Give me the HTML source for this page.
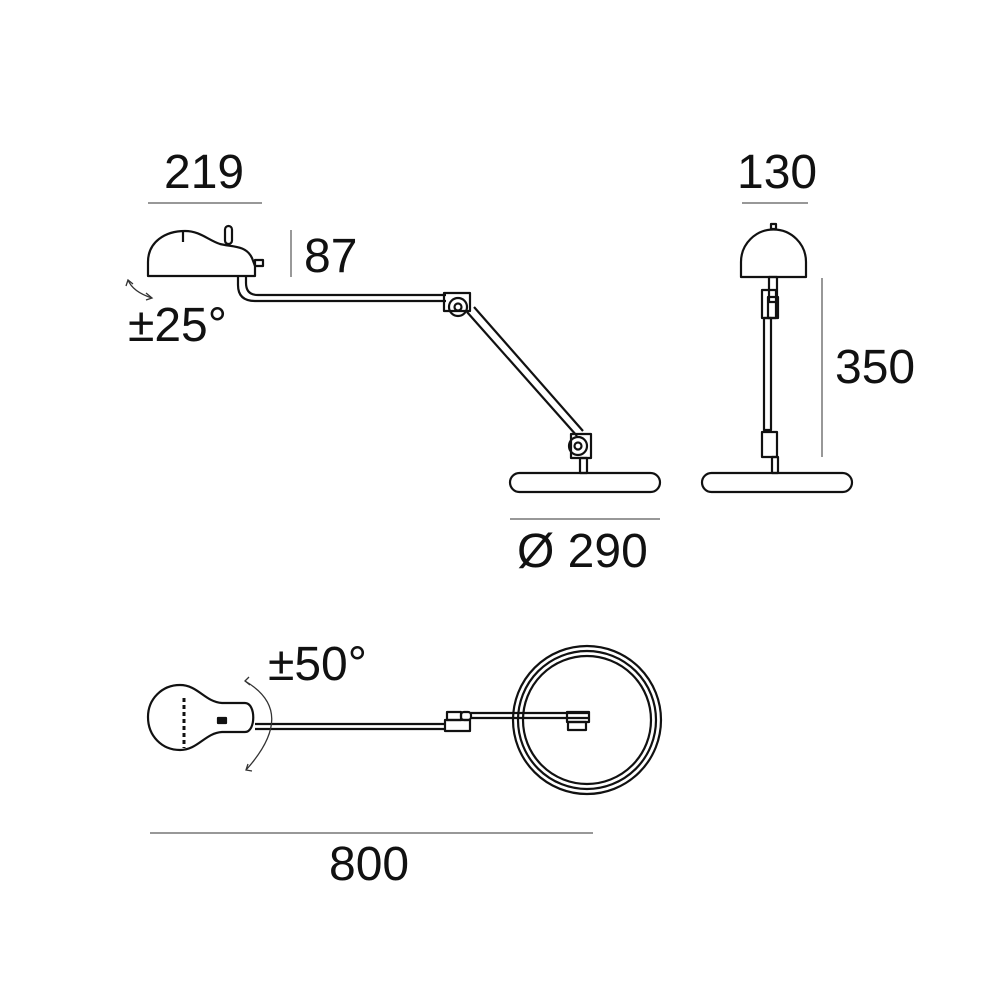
<!DOCTYPE html>
<html><head><meta charset="utf-8"><style>
html,body{margin:0;padding:0;background:#fff}
svg{display:block}
text{font-family:"Liberation Sans",Arial,sans-serif;fill:#111;font-size:48px}
</style></head><body>
<svg width="1000" height="1000" viewBox="0 0 1000 1000" xmlns="http://www.w3.org/2000/svg">
<g fill="none" stroke="#111" stroke-width="2.2" stroke-linejoin="round">
<path d="M148 276 L148 262 C148 242 165 231 185 231 C200 231 208 240 220 244 C232 247 246 245 252 258 L255 266 L255 276 Z"/>
<rect x="225" y="226" width="7" height="18" rx="3.5"/>
<line x1="183" y1="232" x2="183" y2="242"/>
<rect x="255" y="260" width="8" height="6"/>
<path d="M238 277 L238 285 Q238 301 255 301 L446 301"/>
<path d="M246 277 L246 283 Q246 295 258 295 L446 295"/>
<rect x="444" y="293" width="26" height="18"/>
<circle cx="458" cy="307" r="9"/>
<circle cx="458" cy="307" r="3.5"/>
<line x1="467" y1="312" x2="577" y2="436"/>
<line x1="474" y1="307" x2="583" y2="431"/>
<rect x="571" y="434" width="20" height="24"/>
<circle cx="578" cy="446" r="9"/>
<circle cx="578" cy="446" r="3.5"/>
<rect x="580" y="458" width="7" height="15"/>
<rect x="510" y="473" width="150" height="19" rx="9.5"/>
<path d="M741 277 L741 262 A32 32 0 0 1 806 262 L806 277 Z"/>
<rect x="771" y="224" width="5" height="5"/>
<rect x="769" y="277" width="8" height="25"/>
<rect x="762" y="290" width="14" height="28"/>
<rect x="768" y="297" width="10" height="21"/>
<rect x="764" y="318" width="7" height="112"/>
<rect x="762" y="432" width="15" height="25"/>
<rect x="772" y="457" width="6" height="16"/>
<rect x="702" y="473" width="150" height="19" rx="9.5"/>
<path d="M180 685 C198 685 205 702 222 703 L245 703 C256 703 256 732 245 732 L222 732 C205 733 198 750 180 750 C162 750 148 736 148 717 C148 699 162 685 180 685 Z"/>
<rect x="218" y="718" width="8" height="5" fill="#111"/>
<line x1="184" y1="698" x2="184" y2="748" stroke-dasharray="4 3" stroke-width="3"/>
<line x1="255" y1="724" x2="446" y2="724"/>
<line x1="255" y1="729" x2="446" y2="729"/>
<rect x="445" y="720" width="25" height="11"/>
<rect x="447" y="712" width="14" height="8"/>
<rect x="461" y="712" width="10" height="8" rx="3"/>
<line x1="471" y1="713" x2="590" y2="713"/>
<line x1="471" y1="718" x2="590" y2="718"/>
<rect x="567" y="712" width="22" height="10"/>
<rect x="568" y="722" width="18" height="8"/>
<circle cx="587" cy="720" r="74"/>
<circle cx="587" cy="720" r="69"/>
<circle cx="587" cy="720" r="64"/>
</g>
<g fill="none" stroke="#333" stroke-width="1.3">
<path d="M128 280 Q133 292 152 298"/>
<path d="M126 286 L128 280 L133 284"/>
<path d="M146 293 L152 298 L146 300"/>
<path d="M245 681 Q298 712 246 770"/>
<path d="M249 677 L245 681 L250 685"/>
<path d="M248 764 L246 770 L252 771"/>
</g>
<g stroke="#777" stroke-width="1.5">
<line x1="148" y1="203" x2="262" y2="203"/>
<line x1="742" y1="203" x2="808" y2="203"/>
<line x1="291" y1="230" x2="291" y2="277"/>
<line x1="822" y1="278" x2="822" y2="457"/>
<line x1="510" y1="519" x2="660" y2="519"/>
<line x1="150" y1="833" x2="593" y2="833"/>
</g>
<text x="164" y="188">219</text>
<text x="737" y="188">130</text>
<text x="304" y="272">87</text>
<text x="128" y="341">±25°</text>
<text x="835" y="383">350</text>
<text x="517" y="567">Ø 290</text>
<text x="268" y="680">±50°</text>
<text x="329" y="880">800</text>
</svg>
</body></html>
